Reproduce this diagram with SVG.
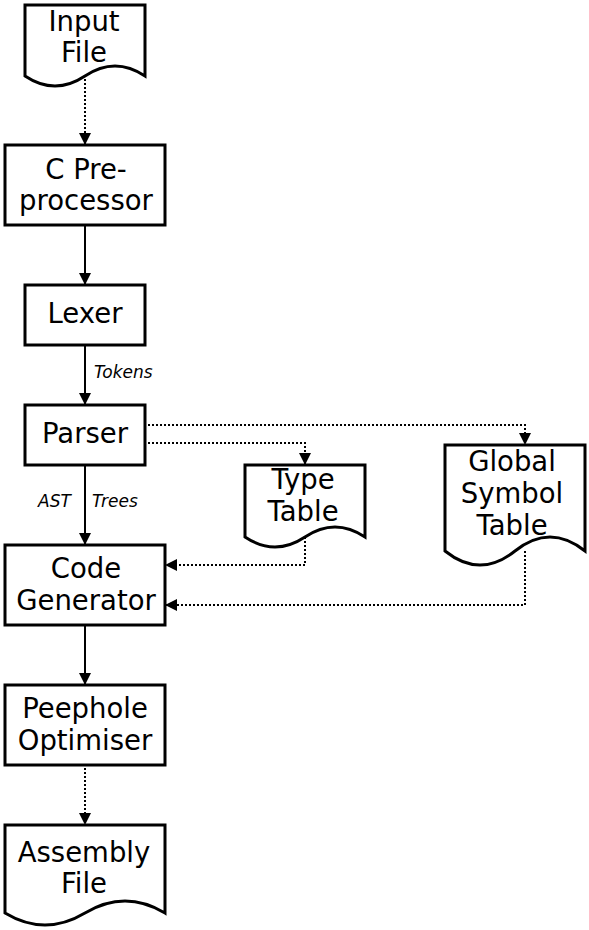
<svg xmlns="http://www.w3.org/2000/svg" width="589" height="930" viewBox="0 0 589 930">
<defs>
<style>
.node{fill:#fff;stroke:#000;stroke-width:3}
.t{font-family:"DejaVu Sans",Verdana,sans-serif;font-size:27.5px;fill:#000;text-anchor:middle}
.lbl{font-family:"DejaVu Sans",Verdana,sans-serif;font-size:17px;font-style:italic;fill:#000}
.c{fill:none;stroke:#000;stroke-width:2}
.d{stroke-dasharray:2 2}
</style>
<marker id="arr" markerUnits="userSpaceOnUse" markerWidth="12" markerHeight="12" refX="10" refY="5" orient="auto" viewBox="0 0 10 10">
<path d="M0,0 L10,5 L0,10 Z" fill="#000"/>
</marker>
</defs>
<rect width="589" height="930" fill="#fff"/>
<g id="connectors">
<path class="c d" d="M85,79 V145" marker-end="url(#arr)"/>
<path class="c" d="M85,225 V285" marker-end="url(#arr)"/>
<path class="c" d="M85,345 V405" marker-end="url(#arr)"/>
<path class="c" d="M85,465 V545" marker-end="url(#arr)"/>
<path class="c d" d="M148,425 H525 V445" marker-end="url(#arr)"/>
<path class="c d" d="M148,443 H305 V465" marker-end="url(#arr)"/>
<path class="c d" d="M305,537 V565 H165" marker-end="url(#arr)"/>
<path class="c d" d="M525,551 V605 H165" marker-end="url(#arr)"/>
<path class="c" d="M85,625 V685" marker-end="url(#arr)"/>
<path class="c d" d="M85,768 V825" marker-end="url(#arr)"/>
<text class="lbl" x="94" y="378">Tokens</text>
<text class="lbl" x="38" y="507">AST</text>
<text class="lbl" x="92" y="507">Trees</text>
</g>
<g id="input-file">
<path class="node" d="M25,5 H145 V76 Q115,56 85,76 Q55,96 25,76 Z"/>
<text class="t" x="84" y="31">Input</text>
<text class="t" x="84" y="62">File</text>
</g>
<g id="c-preprocessor">
<rect class="node" x="5" y="145" width="160" height="80"/>
<text class="t" x="86" y="178.5">C Pre-</text>
<text class="t" x="86" y="210">processor</text>
</g>
<g id="lexer">
<rect class="node" x="25" y="285" width="120" height="60"/>
<text class="t" x="85" y="323">Lexer</text>
</g>
<g id="parser">
<rect class="node" x="25" y="405" width="120" height="60"/>
<text class="t" x="85" y="443">Parser</text>
</g>
<g id="type-table">
<path class="node" d="M245,465 H365 V537 Q335,517 305,537 Q275,557 245,537 Z"/>
<text class="t" x="303" y="489">Type</text>
<text class="t" x="303" y="520.5">Table</text>
</g>
<g id="global-symbol-table">
<path class="node" d="M445,445 H585 V551 Q550,523 515,551 Q480,579 445,551 Z"/>
<text class="t" x="512" y="471">Global</text>
<text class="t" x="512" y="503">Symbol</text>
<text class="t" x="512" y="535">Table</text>
</g>
<g id="code-generator">
<rect class="node" x="5" y="545" width="160" height="80"/>
<text class="t" x="86" y="578">Code</text>
<text class="t" x="86" y="610">Generator</text>
</g>
<g id="peephole-optimiser">
<rect class="node" x="5" y="685" width="160" height="80"/>
<text class="t" x="85" y="718">Peephole</text>
<text class="t" x="85" y="750">Optimiser</text>
</g>
<g id="assembly-file">
<path class="node" d="M5,825 H165 V913 Q125,889 85,913 Q45,937 5,913 Z"/>
<text class="t" x="84" y="862">Assembly</text>
<text class="t" x="84" y="893">File</text>
</g>
</svg>
